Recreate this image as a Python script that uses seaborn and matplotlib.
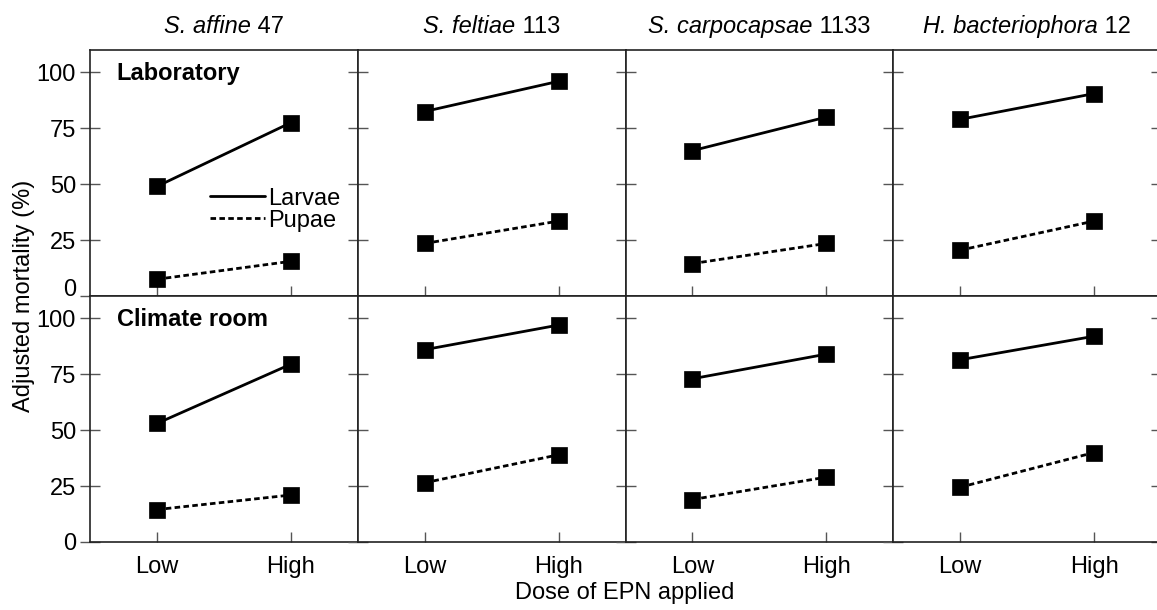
import matplotlib
matplotlib.use("Agg")
import matplotlib.pyplot as plt
from matplotlib.lines import Line2D
import matplotlib.transforms as mtransforms
import seaborn as sns
import pandas as pd

# ---- data ----
species_italic = ["S. affine", "S. feltiae", "S. carpocapsae", "H. bacteriophora"]
strain_numbers = ["47", "113", "1133", "12"]
settings = ["Laboratory", "Climate room"]
doses = ["Low", "High"]
stages = ["Larvae", "Pupae"]

lab_larvae = [[49, 77.5], [82.5, 96], [65, 80], [79, 90.5]]
lab_pupae = [[7.5, 15.5], [23.5, 33.5], [14.5, 23.5], [20.5, 33.5]]
clim_larvae = [[53, 79.5], [86, 97], [73, 84], [81.5, 92]]
clim_pupae = [[14.5, 21], [26.5, 39], [19, 29], [24.5, 40]]

yticks = [0, 25, 50, 75, 100]

rows = []
for si, setting in enumerate(settings):
    larv = lab_larvae if si == 0 else clim_larvae
    pup = lab_pupae if si == 0 else clim_pupae
    for ci in range(4):
        for di, d in enumerate(doses):
            rows.append(dict(setting=setting, species=ci, dose=d, stage="Larvae", mort=larv[ci][di]))
            rows.append(dict(setting=setting, species=ci, dose=d, stage="Pupae", mort=pup[ci][di]))
df = pd.DataFrame(rows)

sns.set_theme(style="ticks")
plt.rcParams["font.family"] = ["Liberation Sans", "DejaVu Sans"]
plt.rcParams["text.color"] = "black"
plt.rcParams["axes.labelcolor"] = "black"
plt.rcParams["axes.titlecolor"] = "black"

FS = 17
TITLE_DY = 17
fig, axes = plt.subplots(2, 4, figsize=(11.57, 6.10), dpi=100, sharex=True, sharey=True)
fig.subplots_adjust(left=90 / 1157, right=1161 / 1157, top=1 - 50 / 610, bottom=1 - 542 / 610,
                    wspace=0, hspace=0)

dash_map = {"Larvae": "", "Pupae": (2.0, 1.2)}
marker_map = {"Larvae": "s", "Pupae": "s"}

title_pairs = []
for si, setting in enumerate(settings):
    for ci in range(4):
        ax = axes[si, ci]
        sub = df[(df.setting == setting) & (df.species == ci)]
        sns.lineplot(data=sub, x="dose", y="mort", style="stage", style_order=stages,
                     dashes=dash_map, markers=marker_map, color="black", sort=False,
                     linewidth=2.0, markersize=11, markeredgecolor="black",
                     markeredgewidth=0.5, legend=False, ax=ax)
        ax.set_xlim(-0.5, 1.5)
        ax.set_ylim(0, 110)
        ax.set_yticks(yticks)
        ax.set_xlabel("")
        ax.set_ylabel("")
        for sp in ax.spines.values():
            sp.set_visible(True)
            sp.set_linewidth(1.2)
            sp.set_color("#222222")
        ax.tick_params(axis="y", direction="inout", length=14, width=1.0, color="#555555",
                       labelsize=FS, labelcolor="black", pad=3)
        ax.tick_params(axis="x", direction="in", length=7, width=1.0, color="#555555",
                       labelsize=FS, labelcolor="black", pad=10)
        if ci == 3:
            ax.tick_params(axis="y", right=True)
        if si == 0:
            t1 = ax.text(0.5, 1.0, species_italic[ci], fontstyle="italic", fontsize=FS,
                         ha="left", va="baseline",
                         transform=mtransforms.offset_copy(ax.transAxes, fig=fig, x=0, y=TITLE_DY, units="dots"))
            t2 = ax.annotate(" " + strain_numbers[ci], xy=(1, 0), xycoords=t1,
                             fontsize=FS, ha="left", va="bottom")
            title_pairs.append((ax, t1, t2))
        if ci == 0:
            ax.text(0.10, 0.905, setting, transform=ax.transAxes, fontsize=FS,
                    fontweight="bold", va="center", ha="left")

# center each two-part title over its panel
fig.canvas.draw()
renderer = fig.canvas.get_renderer()
for ax, t1, t2 in title_pairs:
    w = t1.get_window_extent(renderer).width + t2.get_window_extent(renderer).width
    t1.set_transform(mtransforms.offset_copy(ax.transAxes, fig=fig, x=-w / 2, y=TITLE_DY, units="dots"))

axes[0, 0].yaxis.get_major_ticks()[0].label1.set_verticalalignment("baseline")

handles = [Line2D([], [], color="black", lw=2.0, ls="-"),
           Line2D([], [], color="black", lw=2.0, ls=(0, (2.0, 1.2)))]
axes[0, 0].legend(handles, stages, loc="upper left", bbox_to_anchor=(0.449, 0.44),
                  frameon=False, fontsize=FS, handlelength=2.3, handletextpad=0.15,
                  labelspacing=0.0, borderpad=0, borderaxespad=0)

fig.text(24 / 1157, 1 - 296 / 610, "Adjusted mortality (%)", rotation=90, fontsize=FS,
         va="center", ha="center")
fig.text(625 / 1157, 1 - 593 / 610, "Dose of EPN applied", fontsize=FS, va="center", ha="center")

fig.savefig("out.png", dpi=100)
